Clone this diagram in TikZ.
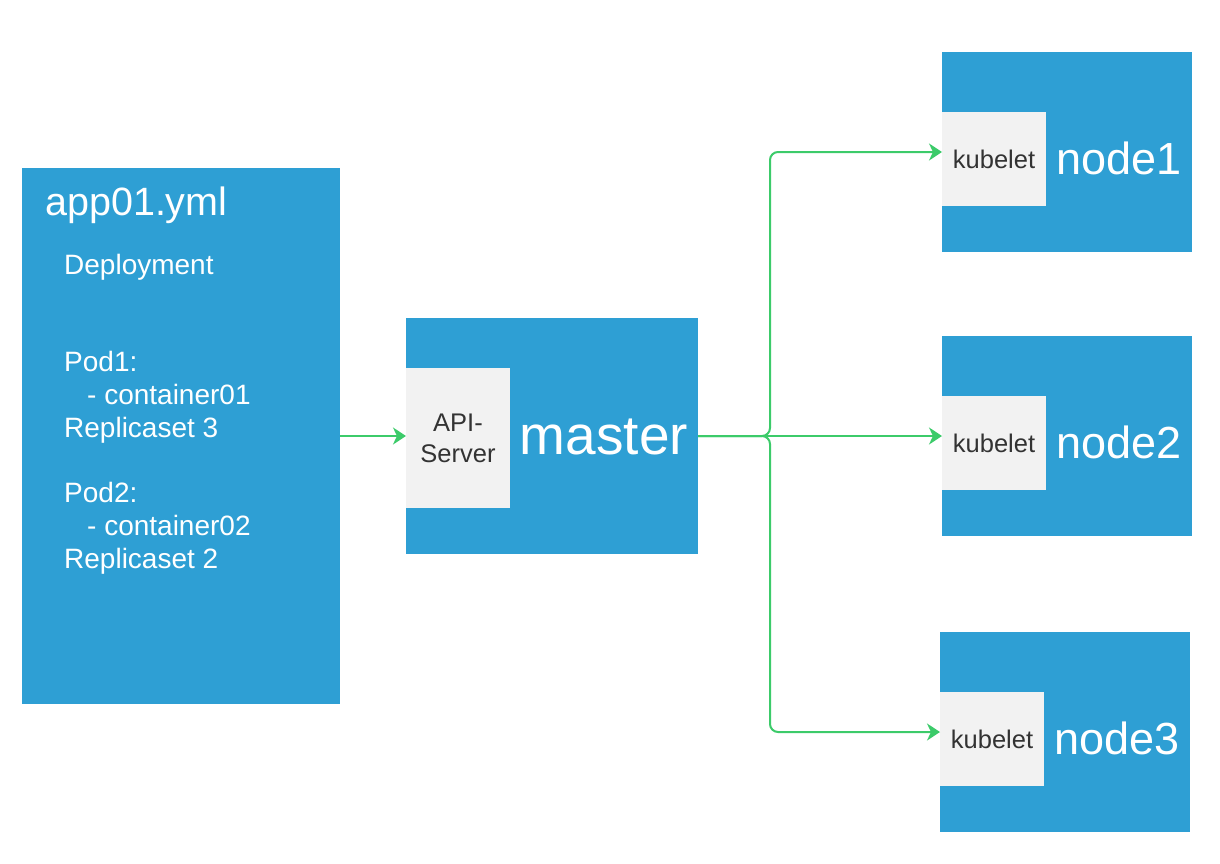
\documentclass[tikz,border=0pt]{standalone}
\usepackage{fontspec}
\setmainfont{Liberation Sans}
\usetikzlibrary{arrows.meta}
\definecolor{kblue}{HTML}{2E9FD4}
\definecolor{kgrey}{HTML}{F2F2F2}
\definecolor{kgreen}{HTML}{3CCB6A}
\definecolor{ktext}{HTML}{333333}
\begin{document}
\begin{tikzpicture}[x=1pt,y=-1pt,
  bluebox/.style={fill=kblue, draw=none, inner sep=0pt, outer sep=0pt, anchor=north west},
  greybox/.style={fill=kgrey, draw=none, inner sep=0pt, outer sep=0pt, anchor=north west, text=ktext,
    font=\fontsize{25.5}{31}\selectfont, align=center},
  bodytext/.style={font=\fontsize{28}{32.8}\selectfont, text=white, anchor=base west, inner sep=0pt},
  bigtext/.style={text=white, inner sep=0pt},
  flow/.style={draw=kgreen, line width=2pt, -{Stealth[length=13pt,width=17pt,inset=4pt]}, rounded corners=8pt}
]
\useasboundingbox (0,0) rectangle (1220,864);
\fill[white] (0,0) rectangle (1220,864);

% left file box
\node[bluebox, minimum width=318pt, minimum height=536pt] (app) at (22,168) {};
\node[bodytext, font=\fontsize{39.5}{44}\selectfont] (title) at (45,215) {app01.yml};
\node[bodytext] (dep) at (64,274) {Deployment};
\node[bodytext] (p1) at (64,371) {Pod1:};
\node[bodytext] (c1) at (64,404) {\hspace*{23pt}- container01};
\node[bodytext] (r1) at (64,437) {Replicaset 3};
\node[bodytext] (p2) at (64,502) {Pod2:};
\node[bodytext] (c2) at (64,535) {\hspace*{23pt}- container02};
\node[bodytext] (r2) at (64,568) {Replicaset 2};

% master
\node[bluebox, minimum width=292pt, minimum height=236pt] (master) at (406,318) {};
\node[greybox, minimum width=104pt, minimum height=140pt] (api) at (406,368) {API-\\Server};
\node[bigtext, font=\fontsize{55}{60}\selectfont] (mastertxt) at (604,437) {master};

% worker nodes
\node[bluebox, minimum width=250pt, minimum height=200pt] (n1) at (942,52) {};
\node[greybox, minimum width=104pt, minimum height=94pt] (k1) at (942,112) {kubelet};
\node[bigtext, font=\fontsize{45}{50}\selectfont] (n1txt) at (1119,158) {node1};

\node[bluebox, minimum width=250pt, minimum height=200pt] (n2) at (942,336) {};
\node[greybox, minimum width=104pt, minimum height=94pt] (k2) at (942,396) {kubelet};
\node[bigtext, font=\fontsize{45}{50}\selectfont] (n2txt) at (1119,442) {node2};

\node[bluebox, minimum width=250pt, minimum height=200pt] (n3) at (940,632) {};
\node[greybox, minimum width=104pt, minimum height=94pt] (k3) at (940,692) {kubelet};
\node[bigtext, font=\fontsize{45}{50}\selectfont] (n3txt) at (1117,738) {node3};

% connectors
\coordinate (j) at (770,436);
\draw[flow] (app.east) -- (master.west);
\draw[flow] (master.east) -- (j) |- (n1.west);
\draw[flow] (master.east) -- (n2.west);
\draw[flow] (master.east) -- (j) |- (n3.west);
\end{tikzpicture}
\end{document}
